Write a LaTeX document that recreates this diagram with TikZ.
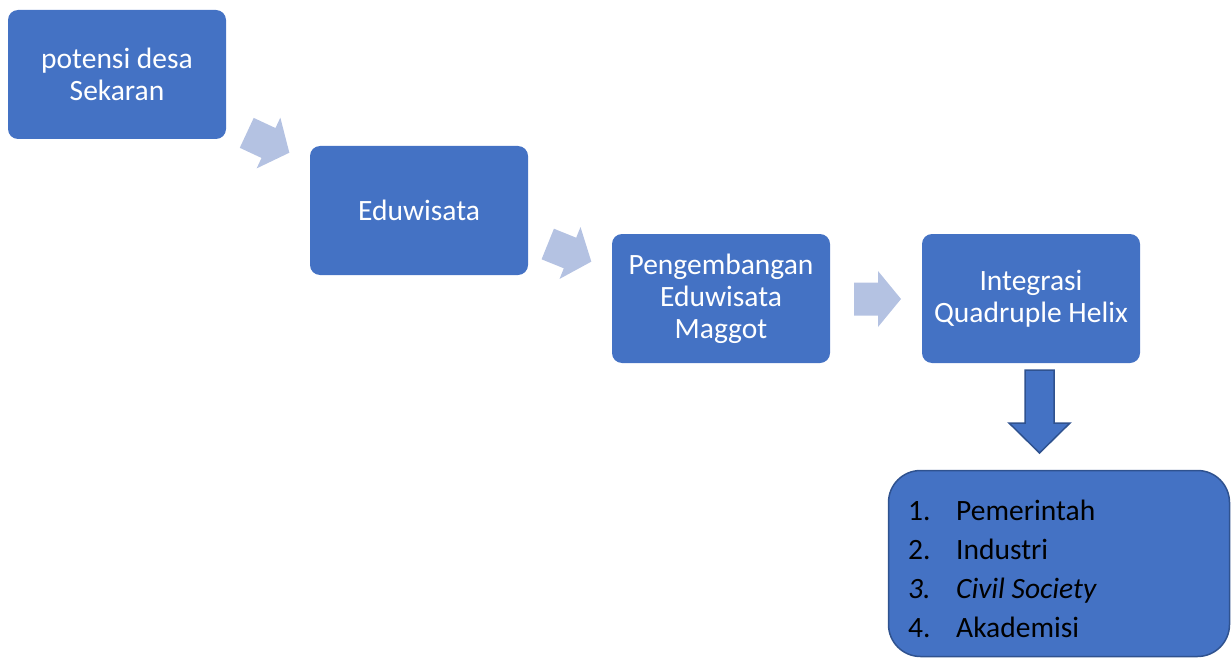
\documentclass[tikz,border=0pt]{standalone}
\usepackage{fontspec}
\setmainfont{Carlito}
\definecolor{boxblue}{HTML}{4472C4}
\definecolor{boxedge}{HTML}{2F528F}
\definecolor{lightarrow}{HTML}{B4C2E2}
\tikzset{
  stepbox/.style={fill=boxblue, draw=none, rounded corners=10pt, minimum width=218pt, minimum height=129pt,
    text=white, align=center, font=\fontsize{29.5}{32}\selectfont, inner sep=0pt},
  chevron/.style={fill=lightarrow, draw=none},
}
\newcommand{\blockarrow}{(-24,-16.5) -- (0,-16.5) -- (0,-28) -- (23,0) -- (0,28) -- (0,16.5) -- (-24,16.5) -- cycle}
\begin{document}
\begin{tikzpicture}[x=1pt,y=-1pt]
\useasboundingbox (0,0) rectangle (1231,658);
\node[stepbox] (s1) at (117,74.5) {potensi desa\\Sekaran};
\node[stepbox] (s2) at (419,210.5) {Eduwisata};
\node[stepbox] (s3) at (721,298.5) {Pengembangan\\Eduwisata\\Maggot};
\node[stepbox] (s4) at (1031,298.5) {Integrasi\\Quadruple Helix};
\begin{scope}[shift={(268.5,143)},rotate=-25]
  \fill[chevron] \blockarrow;
\end{scope}
\begin{scope}[shift={(570,253)},rotate=-22]
  \fill[chevron] \blockarrow;
\end{scope}
\begin{scope}[shift={(878,299)}]
  \fill[chevron] \blockarrow;
\end{scope}
\coordinate (dtop) at (1039.5,370);
\draw[fill=boxblue, draw=boxedge, line width=1.5pt, line join=miter]
  ([xshift=-14.5pt]dtop) -- ([xshift=14.5pt]dtop) -- (1054,423) -- (1070,423) -- (1039.5,453)
  -- (1009,423) -- (1025,423) -- cycle;
\draw[fill=boxblue, draw=boxedge, line width=1.5pt, rounded corners=32pt] (888.5,470.5) rectangle (1229.5,656.5);
\node[anchor=north west, inner sep=0pt, align=left, font=\fontsize{29.5}{39}\selectfont] (list) at (908,493)
  {\begin{tabular}{@{}p{48pt}@{}l@{}}
   1. & Pemerintah\\
   2. & Industri\\
   \textit{3.} & \textit{Civil Society}\\
   4. & Akademisi
   \end{tabular}};
\end{tikzpicture}
\end{document}
